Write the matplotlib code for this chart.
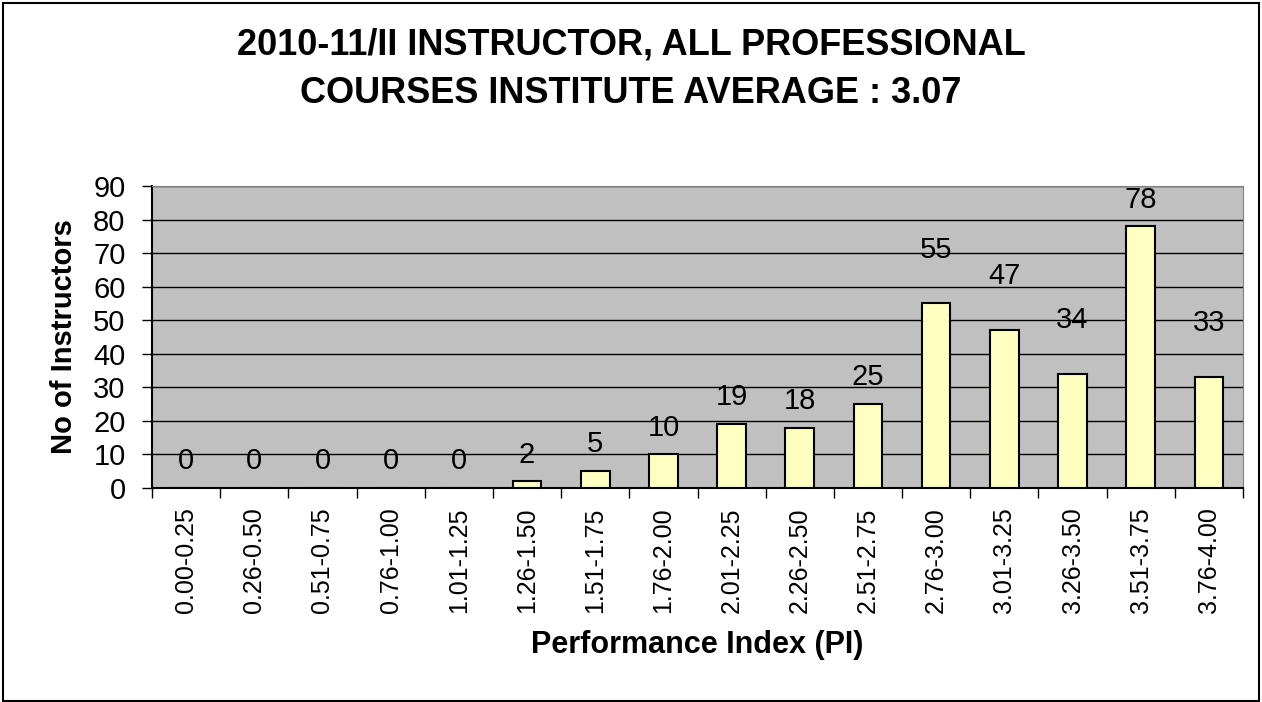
import matplotlib

matplotlib.use("Agg")
import numpy as np
from matplotlib import pyplot as plt
from matplotlib.patches import Rectangle

plt.rcParams["font.family"] = ["Liberation Sans", "DejaVu Sans"]

categories = [
    "0.00-0.25", "0.26-0.50", "0.51-0.75", "0.76-1.00",
    "1.01-1.25", "1.26-1.50", "1.51-1.75", "1.76-2.00",
    "2.01-2.25", "2.26-2.50", "2.51-2.75", "2.76-3.00",
    "3.01-3.25", "3.26-3.50", "3.51-3.75", "3.76-4.00",
]
instructors = [0, 0, 0, 0, 0, 2, 5, 10, 19, 18, 25, 55, 47, 34, 78, 33]
y_ticks = list(range(0, 100, 10))

title = "2010-11/II INSTRUCTOR, ALL PROFESSIONAL\nCOURSES INSTITUTE AVERAGE : 3.07"

# in the original a few data labels were dragged further up than the rest
raised_labels = {"2.76-3.00", "3.01-3.25", "3.26-3.50", "3.76-4.00"}

W, H = 1262, 702
fig = plt.figure(figsize=(W / 100, H / 100), dpi=100)
fig.patches.append(
    Rectangle((3 / W, 1 / H), 1256 / W, 698 / H, transform=fig.transFigure, fill=False, edgecolor="black", lw=1.5)
)

ax = fig.add_axes([152 / W, 1 - 488 / H, (1243 - 152) / W, (488 - 186) / H])
ax.set_facecolor("#c0c0c0")

x = np.arange(len(categories))
ax.bar(x, instructors, width=0.42, color="#ffffc0", edgecolor="black", linewidth=1.5, zorder=3)
for xi, cat, v in zip(x, categories, instructors):
    offset = 33 if cat in raised_labels else 13.5
    ax.annotate(
        str(v), (xi, v), xytext=(0, offset), textcoords="offset points",
        ha="center", va="baseline", fontsize=21, zorder=4,
    )

ax.set_xlim(-0.5, len(categories) - 0.5)
ax.set_ylim(0, 90)
ax.set_yticks(y_ticks)
ax.tick_params(axis="y", labelsize=21, length=7, width=1, direction="out", pad=12)
ax.grid(axis="y", color="black", linewidth=1, zorder=1)

ax.set_xticks(x)
ax.set_xticklabels(categories, rotation=90, fontsize=18)
ax.tick_params(axis="x", which="major", length=0, pad=14)
ax.set_xticks(np.arange(-0.5, len(categories)), minor=True)
ax.tick_params(axis="x", which="minor", length=7, width=1, direction="out")

for side in ["top", "right"]:
    ax.spines[side].set_color("#808080")
for side in ["left", "bottom"]:
    ax.spines[side].set_linewidth(1.5)

ax.set_ylabel("No of Instructors", fontsize=21, fontweight="bold", labelpad=11)
ax.set_xlabel("Performance Index (PI)", fontsize=22, fontweight="bold", labelpad=12)

fig.text(0.5, 1 - 69 / H, title, ha="center", va="center", fontsize=26, fontweight="bold", linespacing=1.5)

fig.savefig("out.png", dpi=100)
